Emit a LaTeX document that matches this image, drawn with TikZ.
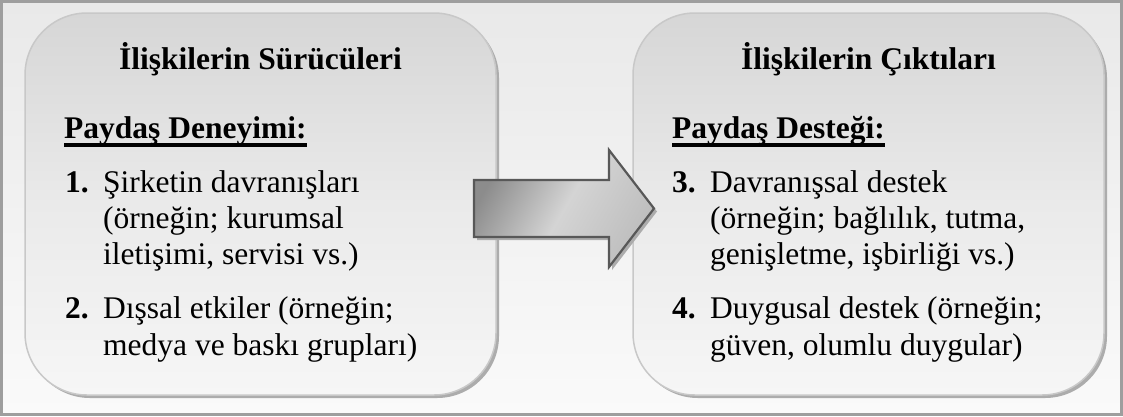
\documentclass[tikz,border=0pt]{standalone}
\usepackage{fontspec}
\setmainfont{Liberation Serif}
\usetikzlibrary{shadows}

\definecolor{framegray}{RGB}{158,158,158}
\definecolor{bgtop}{RGB}{233,233,233}
\definecolor{bgbot}{RGB}{250,250,250}
\definecolor{boxtop}{RGB}{214,214,214}
\definecolor{boxmid}{RGB}{234,234,234}
\definecolor{boxbot}{RGB}{246,246,246}
\definecolor{boxline}{RGB}{200,200,200}
\definecolor{shadowgray}{RGB}{172,172,172}
\definecolor{arrowdark}{RGB}{140,140,140}
\definecolor{arrowlight}{RGB}{212,212,212}
\definecolor{arrowright}{RGB}{190,190,190}
\definecolor{arrowline}{RGB}{88,88,88}

% bold text with a heavy underline below it
\newcommand\heavyuline[1]{\setbox0\hbox{#1}\rlap{\rule[-8.5pt]{\wd0}{3.2pt}}\box0}

\begin{document}
\begin{tikzpicture}[x=1pt,y=-1pt,
  every node/.style={font=\fontsize{31.5}{36}\selectfont, inner sep=0pt},
  panel/.style={rounded corners=62pt, draw=boxline, line width=1.5pt,
    top color=boxtop, bottom color=boxbot, middle color=boxmid,
    minimum width=471pt, minimum height=382pt,
    drop shadow={shadow xshift=3pt, shadow yshift=-3pt, fill=shadowgray, opacity=1}},
  paneltitle/.style={anchor=base, font=\fontsize{31.5}{36}\selectfont\bfseries},
  txt/.style={anchor=base west},
  num/.style={anchor=base west, font=\fontsize{31.5}{36}\selectfont\bfseries}]

\useasboundingbox (0,0) rectangle (1123,416);

% outer frame
\path[draw=framegray, line width=3pt, top color=bgtop, bottom color=bgbot]
  (1.5,1.5) rectangle (1121.5,414.5);

% the two panels
\node[panel] (drivers) at (260.5,204) {};
\node[panel] (outcomes) at (868.5,204) {};

% block arrow between the panels
\path[draw=arrowline, line width=2.2pt, line join=miter,
      left color=arrowdark, right color=arrowright, middle color=arrowlight,
      shading angle=60,
      drop shadow={shadow xshift=3pt, shadow yshift=-3pt, fill=shadowgray, opacity=1}]
  (474,180) -- (609,180) -- (609,150) -- (654,208.5) -- (609,267)
  -- (609,237) -- (474,237) -- cycle;

% left panel text
\node[paneltitle] (dt) at (260.5,69) {İlişkilerin Sürücüleri};
\node[txt] (dh) at (64,138) {\heavyuline{\bfseries Paydaş Deneyimi:}};
\node[num] (n1) at (65,192.5) {1.};
\node[txt] (d1a) at (103,192.5) {Şirketin davranışları};
\node[txt] (d1b) at (103,228) {(örneğin; kurumsal};
\node[txt] (d1c) at (103,264) {iletişimi, servisi vs.)};
\node[num] (n2) at (65,318) {2.};
\node[txt] (d2a) at (103,318) {Dışsal etkiler (örneğin;};
\node[txt] (d2b) at (103,355) {medya ve baskı grupları)};

% right panel text
\node[paneltitle] (ot) at (868.5,69) {İlişkilerin Çıktıları};
\node[txt] (oh) at (672,138) {\heavyuline{\bfseries Paydaş Desteği:}};
\node[num] (n3) at (672,192.5) {3.};
\node[txt] (o3a) at (710,192.5) {Davranışsal destek};
\node[txt] (o3b) at (710,228) {(örneğin; bağlılık, tutma,};
\node[txt] (o3c) at (710,264) {genişletme, işbirliği vs.)};
\node[num] (n4) at (672,318) {4.};
\node[txt] (o4a) at (710,318) {Duygusal destek (örneğin;};
\node[txt] (o4b) at (710,355) {güven, olumlu duygular)};

\end{tikzpicture}
\end{document}
